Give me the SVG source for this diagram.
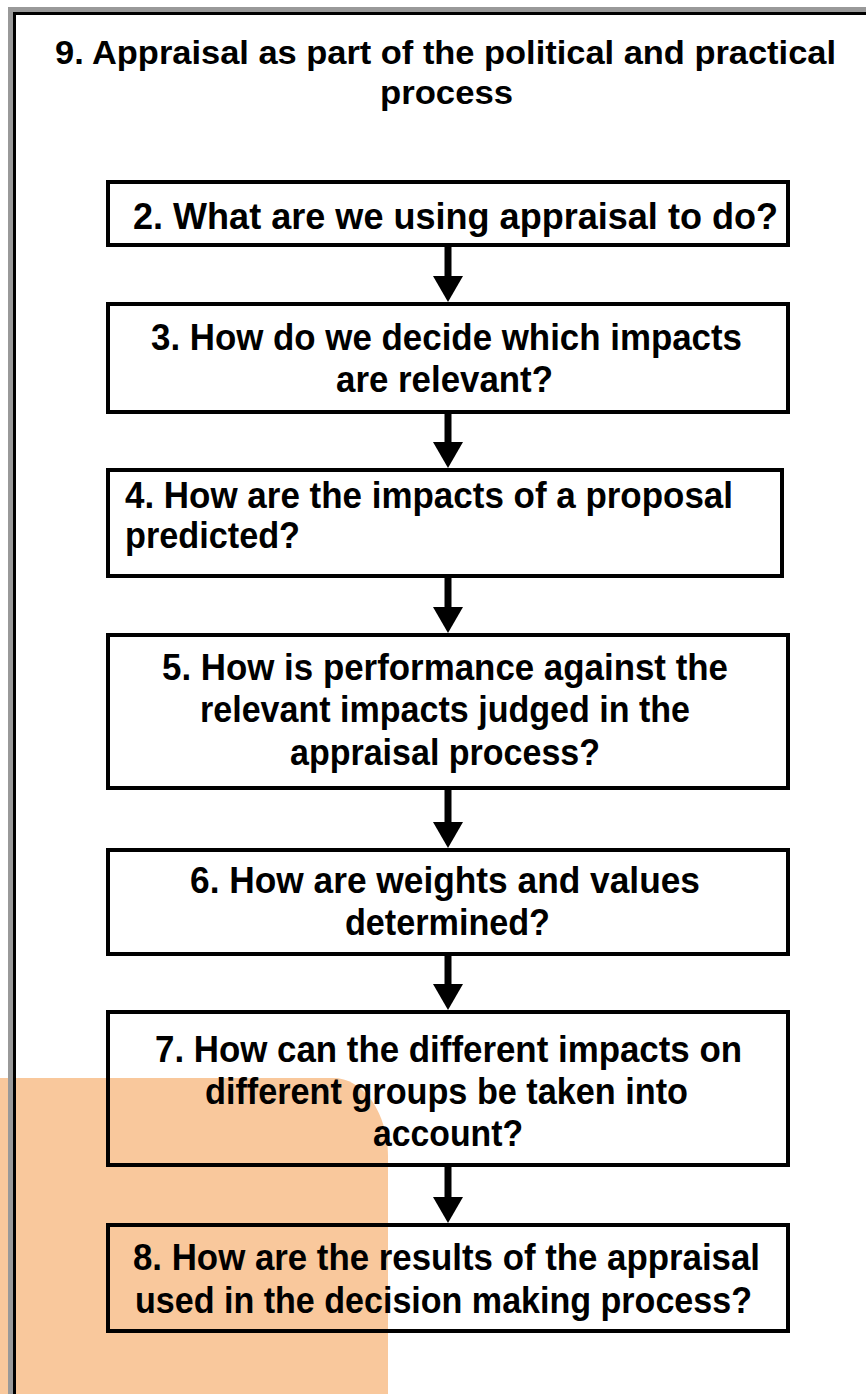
<svg xmlns="http://www.w3.org/2000/svg" width="866" height="1394" viewBox="0 0 866 1394">
<style>
.t{font-family:"Liberation Sans",Arial,sans-serif;font-weight:bold;font-size:36px;fill:#000}
.tt{font-family:"Liberation Sans",Arial,sans-serif;font-weight:bold;font-size:34px;fill:#000}
.box{fill:none;stroke:#000;stroke-width:4}
.conn{stroke:#000;stroke-width:7;fill:none}
</style>
<defs>
<marker id="ah" markerUnits="userSpaceOnUse" viewBox="0 0 26 30" markerWidth="26" markerHeight="30" refX="6" refY="15" orient="auto">
<path d="M0,0 L26,15 L0,30 Z" fill="#000"/>
</marker>
</defs>
<rect x="0" y="0" width="866" height="1394" fill="#fff"/>
<path d="M0,1078 H333 A55 78 0 0 1 388 1156 V1394 H0 Z" fill="#F9C89C"/>
<g id="frame">
<rect x="8" y="7" width="858" height="5" fill="#999"/>
<rect x="8" y="7" width="5" height="1387" fill="#999"/>
<rect x="13" y="12" width="853" height="3" fill="#000"/>
<rect x="13" y="12" width="3" height="1382" fill="#000"/>
</g>
<g id="title">
<text class="tt" x="445.5" y="64" text-anchor="middle" textLength="781" lengthAdjust="spacingAndGlyphs">9. Appraisal as part of the political and practical</text>
<text class="tt" x="446.5" y="104" text-anchor="middle" textLength="133" lengthAdjust="spacingAndGlyphs">process</text>
</g>
<g id="connectors">
<line class="conn" x1="448" y1="247" x2="448" y2="282" marker-end="url(#ah)"/>
<line class="conn" x1="448" y1="414" x2="448" y2="448" marker-end="url(#ah)"/>
<line class="conn" x1="448" y1="578" x2="448" y2="613" marker-end="url(#ah)"/>
<line class="conn" x1="448" y1="790" x2="448" y2="828" marker-end="url(#ah)"/>
<line class="conn" x1="448" y1="956" x2="448" y2="990" marker-end="url(#ah)"/>
<line class="conn" x1="448" y1="1167" x2="448" y2="1203" marker-end="url(#ah)"/>
</g>
<g id="node2">
<rect class="box" x="108" y="182" width="680" height="63"/>
<text class="t" x="133" y="229" textLength="645" lengthAdjust="spacingAndGlyphs">2. What are we using appraisal to do?</text>
</g>
<g id="node3">
<rect class="box" x="108" y="304" width="680" height="108"/>
<text class="t" x="151" y="350" textLength="591" lengthAdjust="spacingAndGlyphs">3. How do we decide which impacts</text>
<text class="t" x="336" y="392" textLength="217" lengthAdjust="spacingAndGlyphs">are relevant?</text>
</g>
<g id="node4">
<rect class="box" x="108" y="470" width="674" height="106"/>
<text class="t" x="125" y="508" textLength="608" lengthAdjust="spacingAndGlyphs">4. How are the impacts of a proposal</text>
<text class="t" x="125" y="548" textLength="175" lengthAdjust="spacingAndGlyphs">predicted?</text>
</g>
<g id="node5">
<rect class="box" x="108" y="635" width="680" height="153"/>
<text class="t" x="162" y="680" textLength="566" lengthAdjust="spacingAndGlyphs">5. How is performance against the</text>
<text class="t" x="200" y="722" textLength="490" lengthAdjust="spacingAndGlyphs">relevant impacts judged in the</text>
<text class="t" x="290" y="765" textLength="310" lengthAdjust="spacingAndGlyphs">appraisal process?</text>
</g>
<g id="node6">
<rect class="box" x="108" y="850" width="680" height="104"/>
<text class="t" x="190" y="893" textLength="510" lengthAdjust="spacingAndGlyphs">6. How are weights and values</text>
<text class="t" x="345" y="935" textLength="205" lengthAdjust="spacingAndGlyphs">determined?</text>
</g>
<g id="node7">
<rect class="box" x="108" y="1012" width="680" height="153"/>
<text class="t" x="155" y="1062" textLength="587" lengthAdjust="spacingAndGlyphs">7. How can the different impacts on</text>
<text class="t" x="205" y="1104" textLength="483" lengthAdjust="spacingAndGlyphs">different groups be taken into</text>
<text class="t" x="373" y="1146" textLength="150" lengthAdjust="spacingAndGlyphs">account?</text>
</g>
<g id="node8">
<rect class="box" x="108" y="1225" width="680" height="106"/>
<text class="t" x="133" y="1270" textLength="627" lengthAdjust="spacingAndGlyphs">8. How are the results of the appraisal</text>
<text class="t" x="135" y="1313" textLength="617" lengthAdjust="spacingAndGlyphs">used in the decision making process?</text>
</g>
</svg>
